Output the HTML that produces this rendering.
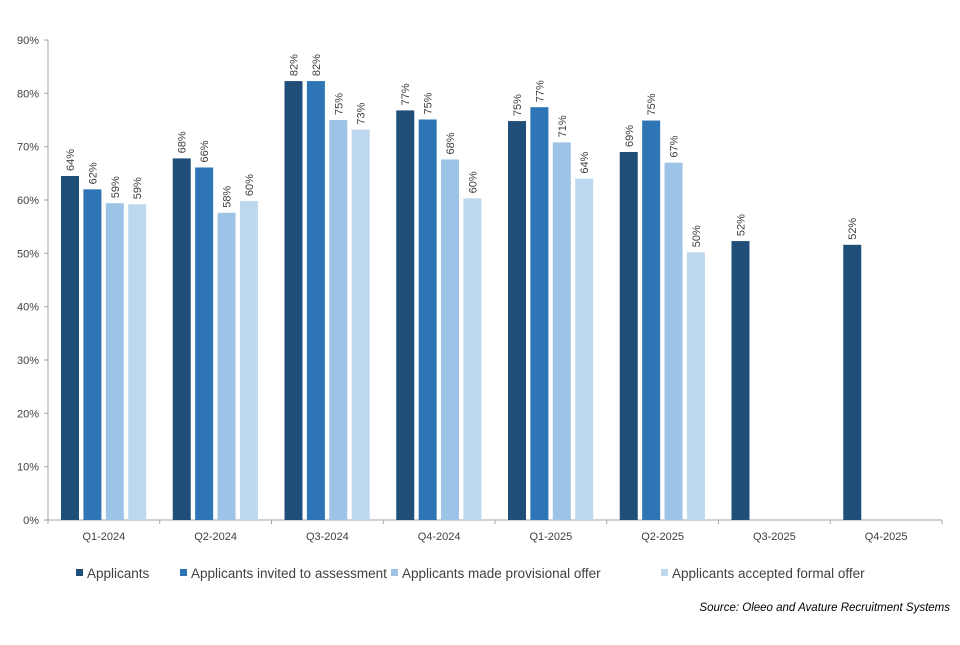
<!DOCTYPE html>
<html><head><meta charset="utf-8"><style>
body{margin:0;background:#fff;font-family:"Liberation Sans",sans-serif;}
svg text{font-family:"Liberation Sans",sans-serif;fill:#404040;}
</style></head><body>
<svg id="chart" width="960" height="640" xmlns="http://www.w3.org/2000/svg"></svg>
<script>
const categories=["Q1-2024","Q2-2024","Q3-2024","Q4-2024","Q1-2025","Q2-2025","Q3-2025","Q4-2025"];
const seriesNames=["Applicants","Applicants invited to assessment","Applicants made provisional offer","Applicants accepted formal offer"];
const applicants=[64.5,67.8,82.3,76.8,74.8,69,52.3,51.6];
const invited=[62,66.1,82.3,75.1,77.4,74.9,null,null];
const provisional=[59.4,57.6,75,67.6,70.8,67,null,null];
const accepted=[59.2,59.8,73.2,60.3,64,50.2,null,null];
const labelApplicants=["64%","68%","82%","77%","75%","69%","52%","52%"];
const labelInvited=["62%","66%","82%","75%","77%","75%","",""];
const labelProvisional=["59%","58%","75%","68%","71%","67%","",""];
const labelAccepted=["59%","60%","73%","60%","64%","50%","",""];
const yTicks=[0,10,20,30,40,50,60,70,80,90];
const colors=["#1f4e79","#2e75b6","#9dc3e6","#bdd7ee"];
const series=[applicants,invited,provisional,accepted];
const labels=[labelApplicants,labelInvited,labelProvisional,labelAccepted];
const svg=document.getElementById('chart');
const NS="http://www.w3.org/2000/svg";
const x0=48,x1=942,yBase=520,yTop=40,yMax=90;
const step=(x1-x0)/categories.length;
function y(v){return yBase-(v/yMax)*(yBase-yTop);}
function xCat(i){return x0+i*step;}
function mk(tag,attrs,parent){const e=document.createElementNS(NS,tag);for(const k in attrs)e.setAttribute(k,attrs[k]);(parent||svg).appendChild(e);return e;}
const yAxis=mk('g',{});


mk('line',{x1:x0,y1:yTop,x2:x0,y2:yBase,stroke:'#a6a6a6','stroke-width':1},yAxis);
yTicks.forEach(t=>{
  mk('line',{x1:x0-4,y1:y(t),x2:x0,y2:y(t),stroke:'#a6a6a6'},yAxis);
  const tx=mk('text',{x:x0-9,y:y(t)+4,'text-anchor':'end','font-size':11},yAxis);
  tx.textContent=t+'%';
  
  
});
const xAxis=mk('g',{});


mk('line',{x1:x0,y1:yBase,x2:x1,y2:yBase,stroke:'#a6a6a6'},xAxis);
for(let i=0;i<=categories.length;i++)mk('line',{x1:xCat(i),y1:yBase,x2:xCat(i),y2:yBase+4,stroke:'#a6a6a6'},xAxis);
categories.forEach((c,i)=>{
  const tx=mk('text',{x:xCat(i)+step/2,y:540,'text-anchor':'middle','font-size':11},xAxis);
  tx.textContent=c;
  
  
});
series.forEach((s,si)=>{
  s.forEach((v,i)=>{
    if(v==null)return;
    const bx=xCat(i)+13+si*22.4;
    const r=mk('rect',{x:bx,y:y(v),width:18,height:yBase-y(v),fill:colors[si]});
    
    
    const cx=bx+9,cy=y(v)-5;
    const tx=mk('text',{x:cx,y:cy+4,'font-size':11,transform:`rotate(-90 ${cx} ${cy})`});
    tx.textContent=labels[si][i];
    
    
  });
});
const lx=[76,180,391,661];
const lg=mk('g',{});


seriesNames.forEach((n,i)=>{
  const e=mk('g',{},lg);
  
  
  mk('rect',{x:lx[i],y:569,width:7,height:7,fill:colors[i]},e);
  const t=mk('text',{x:lx[i]+11,y:578,'font-size':13.5},e);
  t.textContent=n;
});
const src=mk('text',{x:950,y:611,'text-anchor':'end','font-size':11.5,'font-style':'italic'});
src.setAttribute('style','fill:#000');
src.textContent='Source: Oleeo and Avature Recruitment Systems';


</script>
</body></html>
